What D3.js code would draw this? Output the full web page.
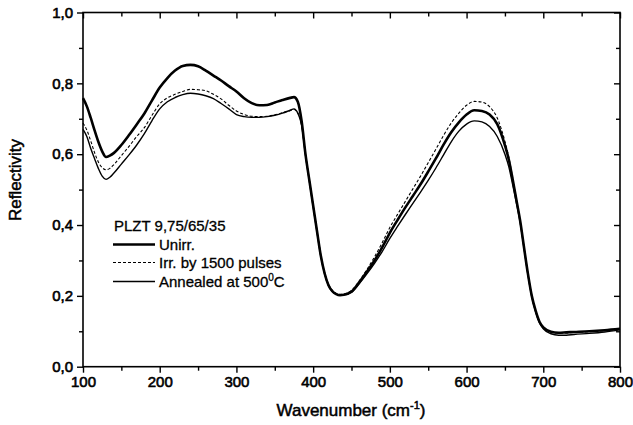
<!DOCTYPE html>
<html>
    <head>
        <title>Reflectivity PLZT</title>
        <meta charset="UTF-8" />
        <script src="https://cdn.jsdelivr.net/npm/d3@7/dist/d3.min.js"></script>
        <style>
            body { margin: 0; background: #fff; }
            svg { display: block; }
            text { font-family: "Liberation Sans", Arial, sans-serif; fill: #000; }
        </style>
    </head>
    <body>
        <svg id="chart" width="633" height="425"></svg>
        <script>
            // wavenumbers (cm-1), shared by all three spectra
            var wavenumber = [100, 105, 110, 115, 120, 125, 130, 135, 140, 150, 160, 170, 180, 190, 200, 210, 220, 230, 240, 250,
                260, 270, 280, 290, 300, 310, 320, 330, 340, 350, 360, 370, 375, 380, 385, 390, 395, 400, 405, 410,
                415, 420, 425, 430, 435, 440, 450, 460, 470, 480, 490, 500, 510, 520, 530, 540, 550, 560, 570, 580,
                590, 600, 610, 620, 630, 640, 650, 655, 660, 665, 670, 675, 680, 685, 690, 695, 700, 710, 720, 730,
                740, 760, 780, 800]

            var unirr = [.758, .735, .703, .668, .635, .608, .592, .596, .603, .626, .654, .684, .715, .752, .788, .815, .836, .849, .852, .848,
                .836, .822, .808, .792, .777, .758, .744, .738, .739, .746, .753, .759, .761, .748, .693, .600, .527, .455, .383, .313,
                .263, .230, .213, .205, .202, .203, .212, .238, .268, .300, .337, .378, .414, .449, .482, .515, .551, .588, .627, .662,
                .690, .712, .724, .722, .712, .685, .625, .585, .530, .470, .410, .335, .262, .200, .158, .127, .111, .099, .096, .097,
                .098, .100, .103, .107]

            var irradiated = [.688, .668, .638, .605, .578, .562, .556, .560, .570, .596, .622, .650, .675, .710, .742, .759, .769, .777, .783, .782,
                .779, .769, .756, .738, .722, .712, .707, .706, .707, .711, .717, .723, .726, .716, .682, .600, .528, .457, .386, .316,
                .266, .233, .216, .207, .204, .205, .215, .242, .274, .310, .350, .393, .430, .466, .502, .538, .576, .614, .653, .688,
                .716, .738, .749, .747, .734, .702, .636, .592, .534, .472, .410, .335, .262, .200, .157, .126, .110, .098, .095, .095,
                .097, .099, .102, .106]

            var annealed = [.670, .650, .617, .588, .560, .538, .529, .535, .546, .572, .598, .626, .658, .695, .728, .748, .760, .768, .772, .770,
                .765, .757, .743, .728, .712, .706, .704, .704, .706, .710, .716, .724, .728, .716, .682, .598, .525, .452, .381, .312,
                .262, .229, .212, .205, .203, .203, .210, .234, .262, .292, .325, .362, .396, .429, .461, .493, .526, .561, .598, .635,
                .665, .685, .694, .691, .678, .650, .600, .565, .515, .462, .405, .333, .260, .198, .155, .124, .107, .093, .089, .089,
                .091, .094, .098, .104]

            var xMajor = [100, 200, 300, 400, 500, 600, 700, 800]
            var xMinor = [150, 250, 350, 450, 550, 650, 750]
            var yMajor = [0, 0.2, 0.4, 0.6, 0.8, 1.0]
            var yMinor = [0.1, 0.3, 0.5, 0.7, 0.9]

            var legendTitle = "PLZT 9,75/65/35"
            var seriesNames = ["Unirr.", "Irr. by 1500 pulses", "Annealed at 500"]

            function drawChart() {
                var x0 = 83, x1 = 620, y0 = 12.5, y1 = 366.7

                var svg = d3.select("#chart")
                var xScale = d3.scaleLinear().domain([100, 800]).range([x0, x1])
                var yScale = d3.scaleLinear().domain([0, 1]).range([y1, y0])

                var commaFmt = d => d3.format(".1f")(d).replace(".", ",")

                function styleAxis(g) {
                    g.select(".domain").remove()
                    g.selectAll("line").attr("stroke", "#000").attr("stroke-width", 1.4)
                    g.selectAll("text")
                        .style("font-size", "15px")
                        .style("font-family", "'Liberation Sans', Arial, sans-serif")
                        .attr("stroke", "#000").attr("stroke-width", 0.6)
                }

                // bottom
                svg.append("g").attr("transform", "translate(0," + y1 + ")")
                    .call(d3.axisBottom(xScale).tickValues(xMajor).tickSize(6).tickPadding(4).tickFormat(d3.format("d")))
                    .call(styleAxis)
                svg.append("g").attr("transform", "translate(0," + y1 + ")")
                    .call(d3.axisBottom(xScale).tickValues(xMinor).tickSize(4).tickFormat(""))
                    .call(styleAxis)
                // top, ticks pointing inward
                svg.append("g").attr("transform", "translate(0," + y0 + ")")
                    .call(d3.axisTop(xScale).tickValues(xMajor).tickSize(-6).tickFormat(""))
                    .call(styleAxis)
                svg.append("g").attr("transform", "translate(0," + y0 + ")")
                    .call(d3.axisTop(xScale).tickValues(xMinor).tickSize(-4).tickFormat(""))
                    .call(styleAxis)
                // left
                svg.append("g").attr("transform", "translate(" + x0 + ",0)")
                    .call(d3.axisLeft(yScale).tickValues(yMajor).tickSize(6).tickPadding(4).tickFormat(commaFmt))
                    .call(styleAxis)
                svg.append("g").attr("transform", "translate(" + x0 + ",0)")
                    .call(d3.axisLeft(yScale).tickValues(yMinor).tickSize(4).tickFormat(""))
                    .call(styleAxis)
                // right, ticks pointing inward
                svg.append("g").attr("transform", "translate(" + x1 + ",0)")
                    .call(d3.axisRight(yScale).tickValues(yMajor).tickSize(-6).tickFormat(""))
                    .call(styleAxis)
                svg.append("g").attr("transform", "translate(" + x1 + ",0)")
                    .call(d3.axisRight(yScale).tickValues(yMinor).tickSize(-4).tickFormat(""))
                    .call(styleAxis)

                svg.append("rect")
                    .attr("x", x0).attr("y", y0)
                    .attr("width", x1 - x0).attr("height", y1 - y0)
                    .attr("fill", "none").attr("stroke", "#000").attr("stroke-width", 1.6)

                var line = d3.line()
                    .x((d, i) => xScale(wavenumber[i]))
                    .y(d => yScale(d))
                    .curve(d3.curveMonotoneX)

                var styles = [
                    { data: unirr, width: 2.6, dash: null },
                    { data: irradiated, width: 1.1, dash: "3,2" },
                    { data: annealed, width: 1.4, dash: null }
                ]

                styles.forEach(function (s) {
                    svg.append("path")
                        .attr("d", line(s.data))
                        .attr("fill", "none")
                        .attr("stroke", "#000")
                        .attr("stroke-width", s.width)
                        .attr("stroke-dasharray", s.dash)
                        .attr("stroke-linejoin", "round")
                })

                // legend
                var lg = svg.append("g").attr("stroke", "#000").attr("stroke-width", 0.3)
                lg.append("text").attr("x", 114).attr("y", 231).style("font-size", "15px").text(legendTitle)
                var rowY = [244.5, 262.5, 281.5]
                styles.forEach(function (s, i) {
                    lg.append("line")
                        .attr("x1", 113).attr("x2", 155)
                        .attr("y1", rowY[i]).attr("y2", rowY[i])
                        .attr("stroke", "#000")
                        .attr("stroke-width", s.width)
                        .attr("stroke-dasharray", s.dash)
                    var t = lg.append("text").attr("x", 159).attr("y", rowY[i] + 5.5).style("font-size", "15px").text(seriesNames[i])
                    if (i == 2) {
                        t.append("tspan").attr("dy", -6).style("font-size", "10px").text("0")
                        t.append("tspan").attr("dy", 6).text("C")
                    }
                })

                // axis titles
                var xt = svg.append("text")
                    .attr("x", 351).attr("y", 416)
                    .attr("text-anchor", "middle")
                    .attr("stroke", "#000").attr("stroke-width", 0.5)
                    .style("font-size", "17px")
                    .text("Wavenumber (cm")
                xt.append("tspan").attr("dy", -7).style("font-size", "11px").text("-1")
                xt.append("tspan").attr("dy", 7).text(")")

                svg.append("text")
                    .attr("transform", "translate(21,180) rotate(-90)")
                    .attr("text-anchor", "middle")
                    .attr("stroke", "#000").attr("stroke-width", 0.5)
                    .style("font-size", "17px")
                    .text("Reflectivity")
            }

            drawChart()
        </script>
    </body>
</html>
